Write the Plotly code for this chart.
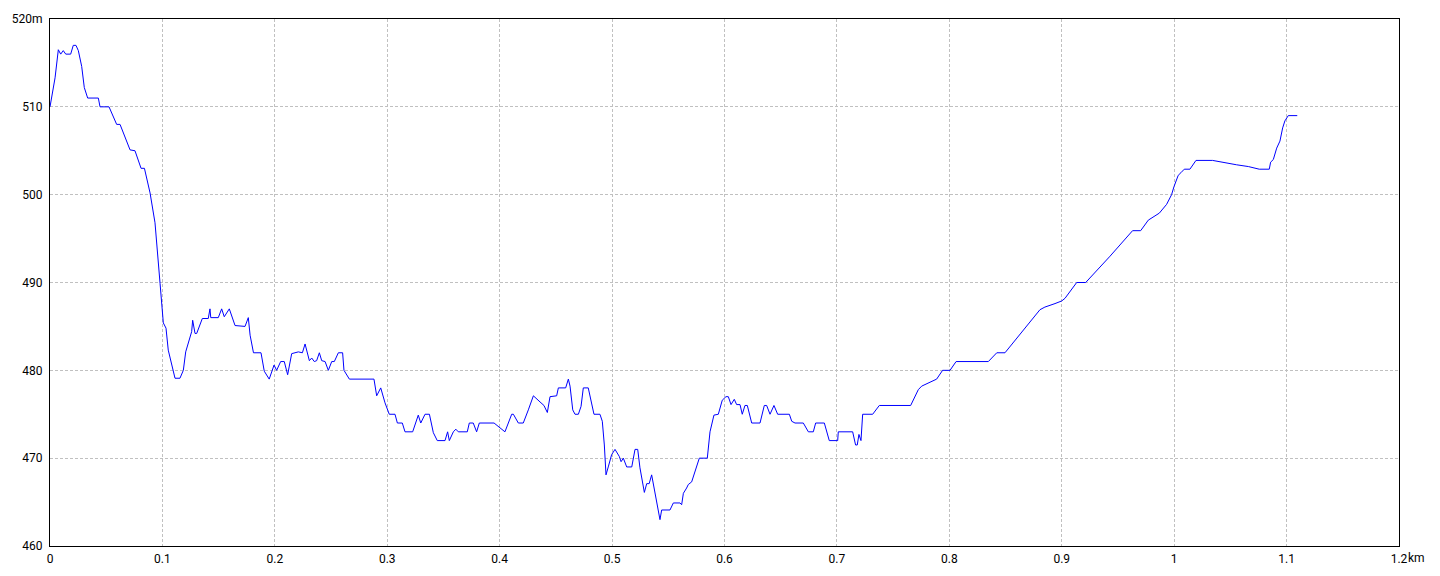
import plotly.graph_objects as go

dist_km = [0, 0.0045, 0.0074, 0.0095, 0.0118, 0.014, 0.0184, 0.0207, 0.0231, 0.0252, 0.0282, 0.0305, 0.0335, 0.043, 0.0445, 0.0525, 0.0593, 0.0623, 0.0712, 0.0756, 0.081, 0.084, 0.089, 0.0934, 0.0979, 0.1008, 0.1032, 0.1052, 0.1112, 0.1156, 0.1186, 0.1207, 0.126, 0.1269, 0.129, 0.1305, 0.1355, 0.1408, 0.1423, 0.143, 0.1497, 0.1527, 0.155, 0.1595, 0.1646, 0.1735, 0.1764, 0.178, 0.181, 0.1877, 0.1906, 0.195, 0.1993, 0.2016, 0.2052, 0.2084, 0.2114, 0.215, 0.2209, 0.2245, 0.2269, 0.2307, 0.2328, 0.2351, 0.2372, 0.2396, 0.2417, 0.2447, 0.2476, 0.2506, 0.2529, 0.2565, 0.2603, 0.2615, 0.2663, 0.2882, 0.2906, 0.2942, 0.298, 0.3018, 0.3069, 0.309, 0.3134, 0.3158, 0.3226, 0.3256, 0.3276, 0.3298, 0.3336, 0.3375, 0.341, 0.3445, 0.3514, 0.3537, 0.3552, 0.3588, 0.361, 0.3632, 0.3712, 0.373, 0.3765, 0.3795, 0.3819, 0.395, 0.4047, 0.4107, 0.4122, 0.4166, 0.421, 0.4255, 0.43, 0.4359, 0.4394, 0.4424, 0.4448, 0.4507, 0.4522, 0.4587, 0.4611, 0.4626, 0.465, 0.467, 0.47, 0.4724, 0.4744, 0.4788, 0.4818, 0.4839, 0.4892, 0.4913, 0.4931, 0.4946, 0.4966, 0.4996, 0.5026, 0.5064, 0.508, 0.51, 0.513, 0.5175, 0.5204, 0.5228, 0.5248, 0.5272, 0.5287, 0.5308, 0.533, 0.5352, 0.5367, 0.5397, 0.5426, 0.5441, 0.5515, 0.5545, 0.5604, 0.5619, 0.5634, 0.5663, 0.5678, 0.5708, 0.5752, 0.5776, 0.5847, 0.5871, 0.5906, 0.5945, 0.598, 0.6013, 0.6034, 0.6058, 0.6087, 0.6108, 0.6138, 0.6158, 0.6182, 0.6203, 0.6242, 0.6316, 0.6354, 0.6375, 0.6405, 0.644, 0.6473, 0.6577, 0.6598, 0.6627, 0.6701, 0.6746, 0.679, 0.6811, 0.6888, 0.6932, 0.7007, 0.7012, 0.714, 0.7166, 0.7181, 0.7196, 0.7214, 0.7229, 0.7318, 0.7377, 0.7656, 0.7724, 0.7754, 0.7887, 0.794, 0.8006, 0.806, 0.8347, 0.8422, 0.8495, 0.8806, 0.885, 0.894, 0.9, 0.9029, 0.9133, 0.9213, 0.943, 0.963, 0.9702, 0.977, 0.9868, 0.9933, 0.9977, 0.9998, 1.0036, 1.006, 1.009, 1.014, 1.0194, 1.0342, 1.0452, 1.0556, 1.066, 1.0757, 1.0846, 1.0858, 1.0882, 1.0912, 1.0941, 1.0965, 1.0985, 1.1015, 1.1095]

elev_m = [510, 513.3, 516.5, 516, 516.4, 516, 516, 517, 517, 516.4, 514.6, 512.2, 511, 511, 510, 510, 508, 508, 505.1, 505, 503, 503, 500.2, 496.8, 489.9, 485.4, 484.8, 482.3, 479.1, 479.1, 480, 482.1, 484.4, 485.7, 484.2, 484.2, 485.9, 485.9, 487, 486, 486, 487, 486.1, 487, 485.1, 485, 486, 484, 482, 482, 479.9, 479, 480.6, 480, 481, 481, 479.5, 481.9, 482.1, 482, 483, 481.1, 481.4, 481, 481.1, 482, 481.1, 481, 480, 481, 481, 482, 482, 480, 479, 479, 477.1, 478, 476.3, 475, 475, 474, 474, 473, 473, 474, 474.9, 474, 475, 475, 472.9, 472, 472, 473, 472, 473, 473.3, 473, 473, 474, 474, 473, 474, 474, 473, 475, 475, 474, 474, 475.5, 477.1, 476.4, 476, 475.2, 477, 477.1, 478, 478, 479, 478.2, 475.5, 475, 475, 475.9, 478, 478, 476.1, 475, 475, 474.2, 471.5, 468.1, 469, 470.4, 471, 470.2, 469.6, 470, 469, 469, 471, 471, 468.9, 467, 466.1, 467.1, 467.1, 468.1, 467, 465.2, 463, 464.1, 464.1, 464.9, 464.9, 464.7, 466, 466.6, 467, 467.3, 469, 470, 470, 473, 474.9, 475, 476.6, 477, 477, 476.1, 476.7, 476.1, 476.1, 475, 476, 476, 474, 474, 476, 476, 475, 476, 475, 475, 474.2, 474, 474, 473, 473, 474, 474, 472, 472, 473, 473, 471.5, 471.5, 472.7, 472, 475, 475, 476, 476, 477.8, 478.2, 479, 480, 480, 481, 481, 482, 482, 486.9, 487.2, 487.6, 487.9, 488.2, 490, 490, 493, 495.9, 495.9, 497.1, 497.9, 498.9, 500, 500.9, 502.2, 502.5, 502.9, 502.9, 503.9, 503.9, 503.6, 503.4, 503.2, 502.9, 502.9, 503.7, 504, 505.3, 506.1, 507.6, 508.4, 509, 509]

x_tick_vals = [0, 0.1, 0.2, 0.3, 0.4, 0.5, 0.6, 0.7, 0.8, 0.9, 1.0, 1.1, 1.2]
x_tick_text = ["0", "0.1", "0.2", "0.3", "0.4", "0.5", "0.6", "0.7", "0.8", "0.9", "1", "1.1", "1.2"]
y_tick_vals = [460, 470, 480, 490, 500, 510, 520]
y_tick_text = ["460", "470", "480", "490", "500", "510", "520m"]
x_unit = "km"

FONT = "Liberation Sans Narrow, Arial Narrow, Roboto, sans-serif"

fig = go.Figure()
fig.add_trace(go.Scatter(
    x=dist_km, y=elev_m, mode="lines",
    line=dict(color="#0000ff", width=1),
    hoverinfo="x+y", showlegend=False,
))

grid_common = dict(
    showgrid=True, gridcolor="#c0c0c0", gridwidth=1, griddash="3px,2px",
    showline=True, linecolor="#000000", linewidth=1, mirror=True,
    zeroline=False, ticks="", automargin=False,
    tickfont=dict(family=FONT, size=12, color="#000000"),
)

fig.update_xaxes(range=[0, 1.2], tickmode="array", tickvals=x_tick_vals,
                 ticktext=x_tick_text, ticklabelstandoff=2, **grid_common)
fig.update_yaxes(range=[460, 520], tickmode="array", tickvals=y_tick_vals,
                 ticktext=y_tick_text, ticklabelstandoff=4, **grid_common)

fig.add_annotation(x=1.2, y=0, xref="x", yref="paper", text=x_unit,
                   showarrow=False, xanchor="left", yanchor="top",
                   xshift=7, yshift=-3,
                   font=dict(family=FONT, size=12, color="#000000"))

# page body adds an 8px offset; margins compensate so the plot area
# lands at x 50..1399, y 19..546 in the browser window
fig.update_layout(
    width=1440, height=576,
    margin=dict(l=42, r=49, t=11, b=38),
    paper_bgcolor="#ffffff", plot_bgcolor="#ffffff",
    font=dict(family=FONT, size=12, color="#000000"),
)

fig.write_html("out.html")
